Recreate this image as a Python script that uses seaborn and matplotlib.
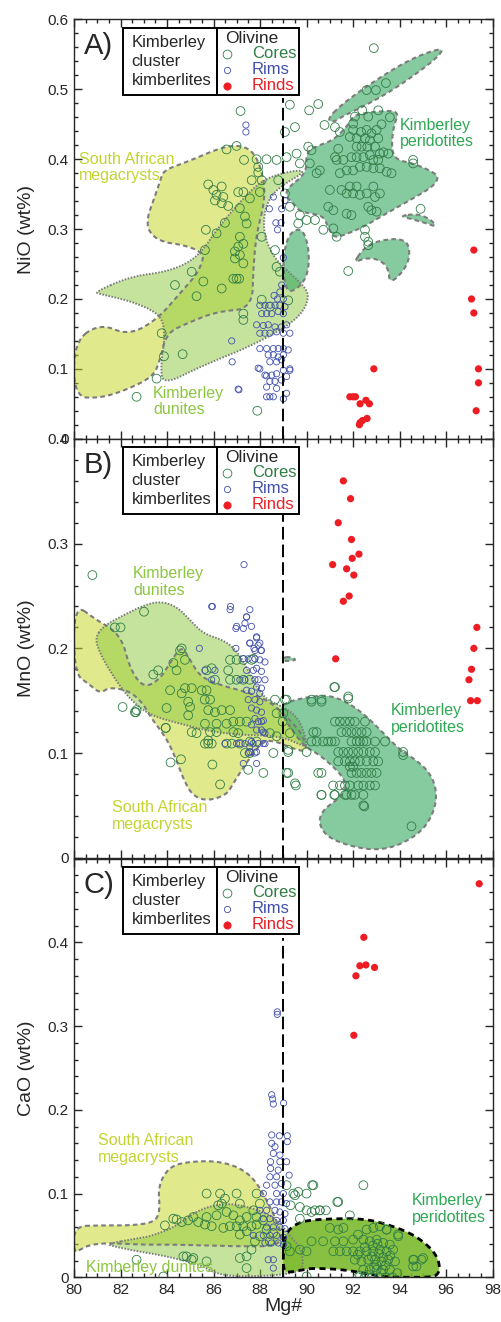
import numpy as np
import matplotlib
matplotlib.use("Agg")
import matplotlib.pyplot as plt
from matplotlib.patches import Polygon, Rectangle
from matplotlib.ticker import MultipleLocator, FixedLocator, FuncFormatter
import seaborn as sns

# ------------------------------------------------------------------
# Olivine analyses (Mg#, oxide wt%)
# ------------------------------------------------------------------
NIO_RINDS = [(97.19, 0.27), (97.09, 0.20), (97.19, 0.18), (97.39, 0.10), (97.39, 0.08),
             (97.29, 0.04), (92.89, 0.10), (91.86, 0.06), (92.00, 0.06), (92.10, 0.06),
             (92.30, 0.05), (92.55, 0.055), (92.70, 0.05), (92.30, 0.023), (92.40, 0.026),
             (92.60, 0.029), (92.27, 0.02)]

NIO_CORES = [
    (92.89, 0.559), (93.41, 0.509), (92.58, 0.499), (92.98, 0.499), (92.39, 0.47), (93.08, 0.47),
    (93.58, 0.46), (87.16, 0.469), (89.28, 0.478), (90.11, 0.47), (90.5, 0.479), (89.5, 0.446),
    (89.07, 0.439), (90.77, 0.449), (91.22, 0.446), (91.43, 0.439), (92.0, 0.451), (92.08, 0.461),
    (92.65, 0.461), (93.22, 0.45), (92.0, 0.442), (92.34, 0.439), (92.58, 0.442), (92.79, 0.437),
    (93.01, 0.442), (91.86, 0.432), (92.15, 0.43), (92.51, 0.43), (92.72, 0.427), (93.08, 0.43),
    (92.15, 0.418), (92.36, 0.418), (92.61, 0.418), (92.94, 0.418), (93.15, 0.408), (93.3, 0.41),
    (93.51, 0.408), (91.36, 0.415), (91.22, 0.403), (91.29, 0.399), (91.58, 0.399), (91.93, 0.403),
    (92.15, 0.403), (92.44, 0.403), (92.72, 0.406), (92.87, 0.399), (93.08, 0.399), (92.29, 0.389),
    (92.58, 0.389), (92.87, 0.387), (93.15, 0.387), (93.44, 0.382), (93.65, 0.38), (91.43, 0.38),
    (91.72, 0.384), (92.0, 0.384), (90.57, 0.384), (90.43, 0.38), (90.07, 0.418), (90.21, 0.413),
    (89.71, 0.394), (90.14, 0.394), (91.0, 0.356), (91.5, 0.356), (91.72, 0.351), (91.86, 0.361),
    (92.15, 0.361), (92.58, 0.351), (92.87, 0.361), (92.94, 0.346), (93.15, 0.351), (92.29, 0.349),
    (92.0, 0.351), (90.93, 0.332), (91.15, 0.327), (91.72, 0.322), (91.93, 0.32), (92.79, 0.327),
    (93.01, 0.325), (92.65, 0.332), (90.72, 0.299), (91.15, 0.301), (92.51, 0.299), (92.51, 0.289),
    (92.65, 0.282), (89.71, 0.32), (89.64, 0.308), (90.0, 0.313), (90.36, 0.313), (89.28, 0.332),
    (94.58, 0.399), (94.58, 0.394), (89.07, 0.351), (94.9, 0.329), (91.79, 0.24), (92.65, 0.277),
    (91.29, 0.289),
    (86.56, 0.414), (86.99, 0.419), (87.31, 0.399), (87.85, 0.4), (88.28, 0.4), (88.71, 0.399),
    (89.14, 0.403), (89.57, 0.408), (87.92, 0.389), (87.92, 0.381), (87.64, 0.37), (88.07, 0.37),
    (88.78, 0.37), (85.77, 0.364), (85.99, 0.356), (86.35, 0.361), (86.13, 0.349), (86.06, 0.341),
    (86.42, 0.346), (86.35, 0.337), (86.63, 0.333), (87.06, 0.353), (87.28, 0.353), (87.99, 0.353),
    (87.56, 0.344), (87.13, 0.33), (87.35, 0.318), (87.42, 0.308), (86.49, 0.309), (85.67, 0.299),
    (86.13, 0.294), (87.13, 0.289), (87.28, 0.279), (87.06, 0.275), (86.92, 0.268), (87.13, 0.263),
    (86.92, 0.258), (87.28, 0.251), (86.85, 0.229), (86.99, 0.229), (87.1, 0.229), (85.63, 0.27),
    (85.56, 0.225), (85.06, 0.239), (84.34, 0.22), (88.07, 0.289), (88.64, 0.27), (88.71, 0.246),
    (88.85, 0.239), (85.27, 0.204), (86.35, 0.215), (87.28, 0.179), (87.28, 0.17), (83.77, 0.151),
    (84.67, 0.121), (83.87, 0.118), (83.55, 0.086), (82.69, 0.06), (87.88, 0.04), (88.07, 0.199),
    (88.42, 0.189), (89.21, 0.198)]

NIO_RIMS = [
    (87.99, 0.191), (88.21, 0.191), (88.42, 0.191), (88.64, 0.191), (88.85, 0.191), (89.07, 0.189),
    (88.07, 0.179), (88.28, 0.179), (88.50, 0.179), (88.78, 0.182), (89.00, 0.179),
    (87.85, 0.163), (88.14, 0.162), (88.35, 0.163), (88.64, 0.160), (88.92, 0.160), (89.14, 0.163),
    (87.99, 0.151), (88.21, 0.151), (88.42, 0.151), (88.71, 0.153), (89.00, 0.151), (89.28, 0.151),
    (87.99, 0.129), (88.28, 0.129), (88.57, 0.129), (88.78, 0.129), (89.00, 0.129), (89.21, 0.127),
    (88.35, 0.120), (88.57, 0.120), (88.78, 0.117), (89.00, 0.120),
    (88.42, 0.110), (88.71, 0.110), (88.92, 0.113),
    (87.92, 0.101), (88.21, 0.091), (88.50, 0.091), (88.71, 0.093), (89.00, 0.098), (89.28, 0.098),
    (88.42, 0.082), (88.64, 0.082), (88.92, 0.084), (89.14, 0.089),
    (88.28, 0.074), (88.71, 0.072), (88.42, 0.060), (88.57, 0.060), (88.28, 0.060),
    (87.06, 0.071), (86.78, 0.140), (89.00, 0.057),
    (87.39, 0.449), (87.39, 0.439), (88.57, 0.346), (88.40, 0.329), (88.93, 0.329), (88.68, 0.309),
    (88.90, 0.309), (88.75, 0.299), (89.00, 0.259), (89.07, 0.341), (88.93, 0.220), (88.85, 0.210),
    (89.00, 0.200), (88.75, 0.200), (88.60, 0.205),
    (87.99, 0.100), (88.28, 0.090), (89.28, 0.100), (89.14, 0.065), (86.80, 0.110), (87.09, 0.070)]

MNO_RINDS = [(91.58, 0.36), (91.89, 0.343), (91.36, 0.32), (91.93, 0.304), (91.96, 0.286),
             (92.25, 0.29), (91.12, 0.28), (91.72, 0.276), (92.03, 0.27), (91.83, 0.25),
             (91.58, 0.245), (91.25, 0.19), (97.32, 0.22), (97.19, 0.20), (97.09, 0.18),
             (96.98, 0.17), (97.05, 0.15), (97.34, 0.15)]

MNO_CORES = [
    (91.22, 0.163), (91.79, 0.154), (90.21, 0.149), (90.64, 0.149), (91.22, 0.13), (91.43, 0.13),
    (91.65, 0.13), (91.86, 0.13), (92.07, 0.13), (92.51, 0.13), (90.29, 0.12), (90.43, 0.12),
    (91.5, 0.12), (91.72, 0.12), (91.93, 0.12), (92.15, 0.12), (92.36, 0.12), (92.58, 0.12),
    (90.21, 0.111), (90.43, 0.111), (90.71, 0.111), (90.92, 0.111), (91.07, 0.111), (91.22, 0.111),
    (91.93, 0.111), (92.15, 0.111), (92.29, 0.111), (92.44, 0.111), (92.58, 0.111), (92.94, 0.111),
    (93.37, 0.111), (91.36, 0.101), (91.58, 0.101), (91.79, 0.101), (92.0, 0.101), (92.22, 0.101),
    (92.44, 0.101), (92.72, 0.101), (92.94, 0.101), (91.36, 0.092), (91.65, 0.092), (91.86, 0.092),
    (92.07, 0.092), (92.29, 0.092), (92.58, 0.092), (92.87, 0.092), (93.08, 0.092), (91.86, 0.087),
    (92.0, 0.087), (91.93, 0.081), (92.15, 0.081), (92.36, 0.081), (92.58, 0.081), (92.79, 0.081),
    (93.01, 0.081), (91.14, 0.069), (91.43, 0.069), (91.65, 0.069), (91.86, 0.069), (92.22, 0.069),
    (92.44, 0.069), (92.72, 0.069), (92.94, 0.069), (90.64, 0.06), (91.22, 0.06), (91.72, 0.06),
    (91.93, 0.06), (92.07, 0.06), (92.44, 0.06), (92.44, 0.05), (89.14, 0.081), (89.5, 0.071),
    (90.5, 0.081), (90.64, 0.081), (94.15, 0.101), (89.21, 0.103),
    (83.01, 0.235), (84.56, 0.198), (84.77, 0.189), (84.27, 0.186), (84.41, 0.179), (83.62, 0.179),
    (83.41, 0.175), (84.13, 0.16), (84.77, 0.162), (85.06, 0.162), (84.63, 0.157), (84.91, 0.149),
    (84.99, 0.144), (83.98, 0.143), (84.91, 0.136), (85.49, 0.16), (85.7, 0.16), (85.62, 0.151),
    (85.85, 0.151), (85.77, 0.141), (86.06, 0.139), (86.35, 0.141), (86.71, 0.141), (86.13, 0.128),
    (86.56, 0.128), (86.85, 0.13), (87.13, 0.13), (87.42, 0.13), (85.06, 0.12), (85.27, 0.119),
    (85.85, 0.12), (86.13, 0.12), (85.92, 0.109), (85.77, 0.109), (86.56, 0.109), (86.78, 0.109),
    (87.13, 0.109), (87.56, 0.111), (87.85, 0.111), (86.71, 0.189), (86.99, 0.189), (87.28, 0.189),
    (87.63, 0.189), (85.92, 0.181), (86.06, 0.17), (86.71, 0.17), (86.99, 0.17), (87.28, 0.17),
    (87.56, 0.17), (86.63, 0.179), (85.7, 0.179), (82.69, 0.141), (82.62, 0.139), (83.95, 0.124),
    (85.63, 0.128), (87.35, 0.1), (87.56, 0.1), (88.57, 0.1), (88.64, 0.151), (89.07, 0.151),
    (88.71, 0.138), (89.0, 0.138), (88.42, 0.119), (88.71, 0.116), (89.28, 0.119),
    (80.79, 0.27), (81.76, 0.22), (82.0, 0.22), (82.09, 0.144), (82.66, 0.139), (83.94, 0.124),
    (84.15, 0.091), (84.6, 0.094), (84.63, 0.2), (85.63, 0.109), (85.77, 0.112), (85.95, 0.089),
    (86.28, 0.07), (86.85, 0.12), (87.06, 0.119), (87.49, 0.084), (87.71, 0.19), (88.14, 0.081),
    (89.21, 0.101), (89.21, 0.081), (89.54, 0.069), (90.0, 0.101), (90.21, 0.151), (90.64, 0.151),
    (91.19, 0.163), (91.79, 0.152), (94.15, 0.098), (94.51, 0.03), (92.48, 0.049), (90.64, 0.06),
    (91.19, 0.06), (91.65, 0.06), (88.97, 0.13), (89.14, 0.151)]

MNO_RIMS = [
    (87.31, 0.28), (85.95, 0.24), (86.73, 0.24), (87.56, 0.237), (87.42, 0.23), (87.35, 0.224),
    (86.96, 0.219), (87.28, 0.219), (87.56, 0.205), (87.85, 0.21), (87.99, 0.205), (87.74, 0.2),
    (88.04, 0.198), (86.96, 0.2), (85.39, 0.2), (86.99, 0.221), (87.63, 0.221), (87.85, 0.211),
    (87.56, 0.205), (87.92, 0.203), (87.78, 0.198), (88.06, 0.198), (87.28, 0.19), (87.49, 0.19),
    (87.78, 0.19), (87.99, 0.189), (88.21, 0.187), (87.42, 0.179), (87.71, 0.179), (87.85, 0.181),
    (88.06, 0.178), (87.13, 0.17), (87.35, 0.17), (87.78, 0.17), (87.92, 0.17), (88.21, 0.17),
    (87.85, 0.163), (88.06, 0.162), (87.42, 0.16), (87.63, 0.159), (87.99, 0.157), (87.49, 0.151),
    (87.78, 0.151), (87.99, 0.149), (87.63, 0.143), (87.85, 0.141), (88.06, 0.139), (87.78, 0.133),
    (87.92, 0.13), (88.06, 0.13), (87.63, 0.127), (87.85, 0.122), (88.06, 0.122), (88.21, 0.119),
    (86.49, 0.109), (86.99, 0.109), (87.35, 0.109), (87.63, 0.111), (87.92, 0.109), (88.21, 0.109),
    (87.49, 0.1), (87.78, 0.1), (87.56, 0.106), (85.92, 0.17), (85.63, 0.179), (86.06, 0.179),
    (86.71, 0.237), (87.42, 0.23), (85.92, 0.24), (87.28, 0.09), (87.85, 0.09), (87.85, 0.101),
    (87.56, 0.101), (87.13, 0.109), (87.7, 0.109), (88.14, 0.109), (88.14, 0.12), (88.14, 0.131)]

CAO_RINDS = [(97.42, 0.47), (92.46, 0.406), (92.29, 0.372), (92.55, 0.373), (92.92, 0.37),
             (92.12, 0.36), (92.03, 0.289)]

CAO_CORES = [
    (92.44, 0.11), (90.24, 0.11), (89.64, 0.102), (91.32, 0.09), (90.0, 0.08), (90.57, 0.08),
    (90.83, 0.08), (89.71, 0.07), (85.7, 0.1), (84.41, 0.069), (83.91, 0.062), (82.69, 0.021),
    (83.84, 0.001), (84.7, 0.025), (85.06, 0.021), (87.42, 0.011), (90.0, 0.001), (94.61, 0.021),
    (94.94, 0.021), (93.94, 0.049), (93.44, 0.057), (94.58, 0.013),
    (86.28, 0.1), (86.49, 0.094), (86.35, 0.088), (86.99, 0.1), (87.13, 0.088), (86.2, 0.086),
    (85.7, 0.072), (85.63, 0.063), (85.92, 0.061), (85.34, 0.066), (85.13, 0.072), (84.91, 0.068),
    (84.63, 0.066), (84.27, 0.07), (86.13, 0.074), (86.56, 0.078), (86.85, 0.074), (87.13, 0.068),
    (87.42, 0.072), (87.71, 0.08), (87.28, 0.061), (87.42, 0.055), (86.99, 0.061), (86.7, 0.061),
    (86.42, 0.059), (87.63, 0.061), (87.85, 0.063), (87.85, 0.072), (88.13, 0.068), (87.13, 0.051),
    (87.99, 0.049), (88.28, 0.057), (88.56, 0.053), (87.42, 0.025), (87.13, 0.023), (84.84, 0.025),
    (85.13, 0.023), (85.7, 0.019), (87.78, 0.043), (87.63, 0.033), (88.42, 0.043),
    (89.14, 0.11), (89.43, 0.1), (89.31, 0.086), (87.85, 0.1), (87.99, 0.088),
    (90.29, 0.11), (90.0, 0.1), (91.36, 0.09), (90.57, 0.08), (90.21, 0.078), (90.36, 0.08),
    (89.71, 0.084), (89.5, 0.098), (91.86, 0.074), (91.0, 0.059), (91.36, 0.057), (91.58, 0.059),
    (92.21, 0.051), (92.58, 0.057), (92.87, 0.059), (93.15, 0.061), (93.44, 0.057), (93.93, 0.051),
    (90.21, 0.043), (90.71, 0.043), (91.22, 0.043), (91.58, 0.043), (92.0, 0.045), (92.44, 0.045),
    (92.72, 0.043), (93.01, 0.045), (93.29, 0.041), (93.58, 0.039), (91.15, 0.031), (91.43, 0.031),
    (91.72, 0.031), (92.0, 0.031), (92.29, 0.031), (92.58, 0.031), (92.87, 0.031), (93.15, 0.033),
    (93.44, 0.031), (93.72, 0.033), (92.07, 0.021), (92.36, 0.019), (92.65, 0.021), (92.94, 0.021),
    (93.22, 0.019), (93.51, 0.021), (94.58, 0.021), (94.72, 0.013), (95.01, 0.023), (92.44, 0.009),
    (92.72, 0.009), (93.01, 0.009), (93.29, 0.009), (93.58, 0.009), (90.0, 0.031), (89.71, 0.033),
    (89.14, 0.037), (89.28, 0.031),
    (92.8, 0.025), (93.0, 0.015), (93.1, 0.028), (92.9, 0.012), (93.3, 0.024), (93.2, 0.005),
    (92.6, 0.003), (92.3, 0.002), (93.4, 0.014), (92.5, 0.036), (93.6, 0.026), (92.2, 0.027),
    (93.8, 0.019), (93.9, 0.005), (92.85, 0.038), (93.05, 0.04), (92.2, 0.0), (92.5, 0.0),
    (92.8, 0.0), (93.1, 0.0), (93.4, 0.0), (93.7, 0.0)]

CAO_RIMS = [
    (88.74, 0.317), (88.74, 0.314), (88.5, 0.218), (88.54, 0.213), (88.57, 0.207), (89.01, 0.208),
    (88.5, 0.17), (88.83, 0.169), (89.17, 0.169), (89.17, 0.162), (88.5, 0.16), (88.64, 0.156),
    (88.57, 0.148), (88.85, 0.146), (88.45, 0.138), (88.85, 0.138), (89.14, 0.138), (88.45, 0.13),
    (88.78, 0.128), (88.42, 0.12), (88.71, 0.12), (89.25, 0.122), (88.28, 0.11), (88.64, 0.11),
    (88.92, 0.112), (88.14, 0.1), (88.71, 0.1), (89.0, 0.1), (88.42, 0.09), (88.71, 0.09),
    (88.92, 0.09), (89.14, 0.088), (88.28, 0.08), (88.64, 0.08), (88.85, 0.078), (89.07, 0.076),
    (88.14, 0.07), (88.42, 0.07), (88.71, 0.068), (89.0, 0.068), (88.28, 0.06), (88.57, 0.06),
    (88.85, 0.06), (89.07, 0.058), (88.14, 0.05), (88.42, 0.05), (88.71, 0.05), (89.0, 0.048),
    (88.21, 0.041), (88.49, 0.041), (88.78, 0.041), (89.0, 0.039), (88.35, 0.021), (88.57, 0.021),
    (88.57, 0.011), (87.71, 0.05), (87.99, 0.08)]

# ------------------------------------------------------------------
# Reference fields (outline vertices, Mg# vs oxide wt%)
# ------------------------------------------------------------------
NIO_MEGACRYSTS = [
    (80.0, 0.139), (81.12, 0.165), (82.34, 0.148), (83.55, 0.17), (84.56, 0.208), (85.42, 0.241),
    (85.63, 0.272), (82.84, 0.287), (83.7, 0.368), (83.84, 0.384), (84.84, 0.396), (86.56, 0.42),
    (87.42, 0.418), (87.85, 0.403), (88.14, 0.375), (88.21, 0.341), (87.85, 0.294), (87.71, 0.246),
    (87.66, 0.186), (86.13, 0.182), (84.84, 0.165), (83.98, 0.151), (83.7, 0.113), (83.41, 0.089),
    (82.26, 0.07), (81.12, 0.058), (80.0, 0.06)]
NIO_DUNITES = [
    (80.9, 0.21), (82.41, 0.232), (83.98, 0.239), (84.99, 0.253), (85.59, 0.272), (86.13, 0.299),
    (87.13, 0.339), (88.14, 0.372), (89.43, 0.384), (90.0, 0.383), (88.71, 0.358), (88.21, 0.332),
    (88.14, 0.294), (88.57, 0.26), (89.28, 0.237), (89.93, 0.217), (90.1, 0.203), (89.86, 0.182),
    (89.14, 0.16), (87.56, 0.132), (85.42, 0.103), (83.84, 0.077), (83.72, 0.103), (83.91, 0.146),
    (83.77, 0.177), (82.55, 0.196), (81.12, 0.207)]
NIO_PERIDOTITES = [
    [(89.14, 0.358), (90.0, 0.38), (89.97, 0.408), (90.36, 0.418), (91.15, 0.427), (91.79, 0.449),
     (92.01, 0.463), (92.87, 0.468), (94.01, 0.47), (93.72, 0.446), (93.65, 0.413), (93.87, 0.399),
     (94.58, 0.394), (95.3, 0.384), (95.7, 0.375), (95.44, 0.361), (94.58, 0.344), (93.3, 0.32),
     (92.44, 0.303), (91.58, 0.291), (91.15, 0.288), (90.93, 0.303), (90.72, 0.318), (90.29, 0.322),
     (89.71, 0.325), (89.43, 0.337), (89.14, 0.346)],
    [(90.9, 0.458), (91.5, 0.478), (92.4, 0.5), (93.3, 0.52), (94.3, 0.54), (95.2, 0.553),
     (95.9, 0.559), (95.6, 0.545), (94.7, 0.522), (93.6, 0.497), (92.58, 0.478), (91.58, 0.462),
     (91.1, 0.452)],
    [(94.01, 0.319), (94.8, 0.322), (95.37, 0.313), (95.59, 0.303), (95.09, 0.309), (94.44, 0.315)],
    [(92.01, 0.251), (92.44, 0.272), (93.01, 0.283), (94.01, 0.287), (94.44, 0.277), (94.37, 0.248),
     (93.58, 0.22), (93.51, 0.246), (93.01, 0.258), (92.44, 0.258)],
    [(89.14, 0.208), (88.97, 0.246), (89.11, 0.282), (89.43, 0.299), (89.86, 0.299), (90.11, 0.27),
     (90.07, 0.237), (89.71, 0.217)]]

MNO_MEGACRYSTS = [
    (80.0, 0.243), (80.97, 0.227), (81.69, 0.218), (82.12, 0.205), (82.34, 0.186), (82.69, 0.17),
    (83.12, 0.163), (83.7, 0.171), (84.13, 0.186), (84.48, 0.198), (84.7, 0.2), (84.99, 0.189),
    (85.42, 0.173), (86.28, 0.165), (87.13, 0.16), (87.99, 0.154), (88.71, 0.144), (89.43, 0.128),
    (89.86, 0.116), (90.03, 0.101), (89.43, 0.104), (88.71, 0.111), (88.14, 0.112), (87.49, 0.093),
    (87.13, 0.081), (86.85, 0.071), (86.56, 0.06), (85.7, 0.054), (85.06, 0.06), (84.67, 0.077),
    (84.41, 0.093), (83.98, 0.114), (83.27, 0.135), (82.98, 0.147), (82.41, 0.159), (81.55, 0.163),
    (81.12, 0.157), (80.69, 0.165), (80.0, 0.176)]
MNO_DUNITES = [
    (80.9, 0.21), (81.26, 0.221), (81.98, 0.23), (82.98, 0.241), (83.7, 0.245), (84.41, 0.24),
    (84.99, 0.227), (85.56, 0.214), (86.42, 0.208), (86.99, 0.198), (87.42, 0.182), (87.85, 0.163),
    (88.28, 0.151), (89.0, 0.144), (89.57, 0.135), (89.86, 0.122), (90.03, 0.106), (89.71, 0.108),
    (89.14, 0.114), (88.28, 0.117), (87.42, 0.117), (85.99, 0.12), (84.56, 0.128), (83.27, 0.136),
    (82.41, 0.151), (81.69, 0.173), (81.12, 0.195)]
MNO_PERIDOTITES = [
    [(88.97, 0.147), (89.71, 0.152), (90.57, 0.155), (91.15, 0.154), (91.86, 0.147), (92.58, 0.135),
     (93.3, 0.119), (94.01, 0.103), (94.73, 0.093), (95.3, 0.081), (95.59, 0.065), (95.52, 0.046),
     (95.01, 0.026), (94.01, 0.012), (93.01, 0.007), (91.86, 0.011), (90.86, 0.02), (90.5, 0.034),
     (90.72, 0.046), (91.29, 0.055), (91.72, 0.065), (91.58, 0.077), (91.0, 0.09), (90.43, 0.1),
     (89.93, 0.106), (89.43, 0.12), (89.07, 0.132), (88.97, 0.139)],
    [(88.97, 0.191), (89.28, 0.192), (89.57, 0.189), (89.28, 0.188), (89.0, 0.188)]]

CAO_MEGACRYSTS = [
    (80.0, 0.061), (81.12, 0.062), (82.55, 0.062), (83.48, 0.066), (83.7, 0.08), (83.62, 0.104),
    (83.84, 0.122), (84.27, 0.134), (84.99, 0.138), (85.99, 0.139), (86.85, 0.134), (87.49, 0.124),
    (87.92, 0.11), (88.28, 0.092), (88.64, 0.072), (88.85, 0.057), (88.93, 0.045), (88.57, 0.037),
    (87.13, 0.037), (85.7, 0.038), (84.27, 0.039), (82.84, 0.039), (81.55, 0.041), (80.69, 0.039),
    (80.26, 0.033), (80.0, 0.029)]
CAO_DUNITES = [
    (81.4, 0.04), (82.84, 0.047), (83.27, 0.049), (84.27, 0.059), (84.99, 0.074), (85.7, 0.084),
    (86.56, 0.088), (87.13, 0.086), (87.71, 0.082), (88.28, 0.076), (88.85, 0.066), (89.28, 0.049),
    (89.71, 0.037), (89.86, 0.021), (89.79, 0.008), (89.0, 0.003), (87.56, 0.001), (86.56, 0.002),
    (85.99, 0.006), (85.42, 0.015), (84.0, 0.025), (82.55, 0.032), (81.69, 0.037)]
CAO_PERIDOTITES = [
    [(89.0, 0.033), (89.11, 0.053), (89.5, 0.063), (90.0, 0.068), (91.15, 0.07), (92.29, 0.07),
     (93.15, 0.066), (94.3, 0.055), (95.01, 0.043), (95.52, 0.029), (95.73, 0.015), (95.66, 0.003),
     (95.3, 0.0), (94.01, 0.0), (93.15, 0.001), (91.72, 0.009), (90.29, 0.011), (89.86, 0.009),
     (89.28, 0.006), (89.0, 0.007)]]

PANEL_TAGS = ["A)", "B)", "C)"]
OXIDE_LABELS = ["NiO (wt%)", "MnO (wt%)", "CaO (wt%)"]
Y_LIMITS = [0.6, 0.4, 0.5]
Y_LABELLED_MAX = [0.6, 0.4, 0.4]
X_TICKS = [80, 82, 84, 86, 88, 90, 92, 94, 96, 98]
MG_DIVIDE = 89
DIVIDE_TOP = [0.487, 0.33, 0.405]

# ------------------------------------------------------------------
# Styling
# ------------------------------------------------------------------
sns.set_style("ticks")
plt.rcParams["font.family"] = ["Liberation Sans", "DejaVu Sans"]
plt.rcParams["axes.linewidth"] = 1.0

CORE_C = "#2f7d46"
RIM_C = "#4150ad"
RIND_C = "#ee1d23"
MEGA_FILL = (200 / 255, 215 / 255, 40 / 255, 0.53)
DUN_FILL = (140 / 255, 200 / 255, 60 / 255, 0.50)
PER_FILL = (60 / 255, 170 / 255, 100 / 255, 0.62)
PER_FILL_C = (120 / 255, 185 / 255, 40 / 255, 0.88)
EDGE_GREY = "#7c7c7c"
MEGA_TXT = "#c3d431"
DUN_TXT = "#8cc63f"
PER_TXT = "#2ea853"

fig = plt.figure(figsize=(5.01, 13.22), dpi=100)
AX_W, AX_H = 418.7, 419.0
positions = [[0.1477, 0.66815, 0.8357, 0.3171],
             [0.1477, 0.35121, 0.8357, 0.31672],
             [0.1477, 0.03381, 0.8357, 0.31672]]
axes = [fig.add_axes(p) for p in positions]


def rel(px, py):
    """Offset in pixels from the axes' upper-left corner -> axes fraction."""
    return px / AX_W, 1 - py / AX_H


def rounded(pts, passes=3):
    """Chaikin corner cutting so field outlines are drawn as smooth closed curves."""
    p = np.asarray(pts, dtype=float)
    for _ in range(passes):
        q = np.roll(p, -1, axis=0)
        p = np.column_stack([0.75 * p + 0.25 * q, 0.25 * p + 0.75 * q]).reshape(-1, 2)
    return p


def add_field(ax, pts, fill, edge, ls, lw):
    outline = rounded(pts)
    ax.add_patch(Polygon(outline, closed=True, facecolor=fill, edgecolor="none", zorder=1))
    return Polygon(outline, closed=True, fill=False, edgecolor=edge, linestyle=ls,
                   linewidth=lw, zorder=2)


def scatter(ax, pts, color, s, filled, z):
    arr = np.array(pts)
    sns.scatterplot(x=arr[:, 0], y=arr[:, 1], ax=ax, s=s, marker="o", color=color,
                    linewidth=0 if filled else 0.6, zorder=z, legend=False)
    coll = ax.collections[-1]
    if filled:
        coll.set_facecolor(color)
        coll.set_edgecolor("none")
    else:
        coll.set_facecolor("none")
        coll.set_edgecolor(color)


def draw_key(ax):
    top = 8.0
    box = dict(transform=ax.transAxes, fill=False, edgecolor="black", linewidth=1.4,
               zorder=6, clip_on=False)
    x0, y0 = rel(49, top + 67)
    x1, _ = rel(143, 0)
    x2, _ = rel(225, 0)
    h = 67 / AX_H
    ax.add_patch(Rectangle((x0, y0), x2 - x0, h, facecolor="white", edgecolor="none",
                           transform=ax.transAxes, zorder=5))
    ax.add_patch(Rectangle((x0, y0), x1 - x0, h, **box))
    ax.add_patch(Rectangle((x1, y0), x2 - x1, h, **box))
    for i, word in enumerate(["Kimberley", "cluster", "kimberlites"]):
        ax.text(*rel(57.5, top + 15 + 19 * i), word, transform=ax.transAxes, fontsize=12,
                ha="left", va="center", zorder=7)
    ax.text(*rel(151, top + 10.5), "Olivine", transform=ax.transAxes, fontsize=12.5,
            ha="left", va="center", zorder=7)
    rows = [("Cores", CORE_C, 6.3, False), ("Rims", RIM_C, 4.5, False), ("Rinds", RIND_C, 5.2, True)]
    for i, (name, c, ms, filled) in enumerate(rows):
        yy = top + 26 + 16 * i
        ax.plot(*rel(153.5, yy), marker="o", ms=ms, mew=0.6, mec=c,
                mfc=c if filled else "none", transform=ax.transAxes, zorder=7, clip_on=False)
        ax.text(*rel(178, yy), name, transform=ax.transAxes, fontsize=12, color=c,
                ha="left", va="center", zorder=7)


panels = [
    dict(mega=NIO_MEGACRYSTS, dun=NIO_DUNITES, per=NIO_PERIDOTITES, per_fill=PER_FILL,
         per_edge=EDGE_GREY, cores=NIO_CORES, rims=NIO_RIMS, rinds=NIO_RINDS,
         labels=[("South African\nmegacrysts", 5, 132, MEGA_TXT),
                 ("Kimberley\nperidotites", 326, 98, PER_TXT),
                 ("Kimberley\ndunites", 79, 366, DUN_TXT)]),
    dict(mega=MNO_MEGACRYSTS, dun=MNO_DUNITES, per=MNO_PERIDOTITES, per_fill=PER_FILL,
         per_edge=EDGE_GREY, cores=MNO_CORES, rims=MNO_RIMS, rinds=MNO_RINDS,
         labels=[("Kimberley\ndunites", 59, 127, DUN_TXT),
                 ("South African\nmegacrysts", 38, 361, MEGA_TXT),
                 ("Kimberley\nperidotites", 317, 264, PER_TXT)]),
    dict(mega=CAO_MEGACRYSTS, dun=CAO_DUNITES, per=CAO_PERIDOTITES, per_fill=PER_FILL_C,
         per_edge="black", cores=CAO_CORES, rims=CAO_RIMS, rinds=CAO_RINDS,
         labels=[("South African\nmegacrysts", 24, 275, MEGA_TXT),
                 ("Kimberley dunites", 12, 402, DUN_TXT),
                 ("Kimberley\nperidotites", 338, 335, PER_TXT)]),
]

for k, (ax, p) in enumerate(zip(axes, panels)):
    ax.set_xlim(80, 98)
    ax.set_ylim(0, Y_LIMITS[k])

    outlines = [add_field(ax, p["mega"], MEGA_FILL, EDGE_GREY, (0, (2.2, 1.6)), 1.5),
                add_field(ax, p["dun"], DUN_FILL, EDGE_GREY, (0, (0.8, 0.8)), 1.4)]
    for shape in p["per"]:
        lw = 2.0 if k == 2 else 1.5
        outlines.append(add_field(ax, shape, p["per_fill"], p["per_edge"], (0, (2.2, 1.6)), lw))
    for o in outlines:
        ax.add_patch(o)

    scatter(ax, p["cores"], CORE_C, 40, False, 3)
    scatter(ax, p["rims"], RIM_C, 20, False, 3.5)
    scatter(ax, p["rinds"], RIND_C, 27, True, 4)

    ax.plot([MG_DIVIDE, MG_DIVIDE], [0, DIVIDE_TOP[k]], color="black", lw=1.4,
            linestyle=(0, (6.5, 2.6)), zorder=4.5)

    for text, px, py, c in p["labels"]:
        ax.text(*rel(px, py), text, transform=ax.transAxes, fontsize=11.5, color=c,
                ha="left", va="top", linespacing=1.15, zorder=6)

    ax.text(*rel(10, 12), PANEL_TAGS[k], transform=ax.transAxes, fontsize=21,
            ha="left", va="top", zorder=6)
    draw_key(ax)

    # ticks
    ax.xaxis.set_major_locator(FixedLocator(X_TICKS))
    ax.xaxis.set_minor_locator(MultipleLocator(0.5))
    yt = np.round(np.arange(0, Y_LIMITS[k] + 1e-9, 0.1), 2)
    ax.yaxis.set_major_locator(FixedLocator(yt))
    ax.yaxis.set_minor_locator(MultipleLocator(0.02))
    lab_max = Y_LABELLED_MAX[k]
    ax.yaxis.set_major_formatter(FuncFormatter(
        lambda v, pos, m=lab_max: "" if v > m + 1e-9 else ("0" if abs(v) < 1e-9 else f"{v:.1f}")))
    ax.tick_params(which="both", direction="in", top=True, right=True, width=1.0)
    ax.tick_params(which="major", length=6, labelsize=11, pad=4)
    ax.tick_params(which="minor", length=3)
    ax.set_ylabel(OXIDE_LABELS[k], fontsize=14)
    ax.yaxis.set_label_coords(-0.093, 0.5)
    if k < 2:
        ax.tick_params(labelbottom=False)
        ax.set_xlabel("")
    else:
        ax.set_xlabel("Mg#", fontsize=14, labelpad=1)
    for sp in ax.spines.values():
        sp.set_linewidth(1.0)
        sp.set_zorder(8)

fig.savefig("out.png", dpi=100)
